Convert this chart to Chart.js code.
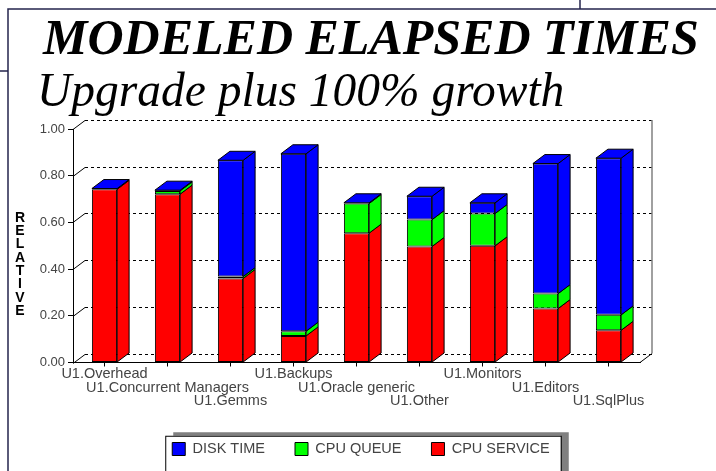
<!DOCTYPE html>
<html>
<head>
<meta charset="utf-8">
<script src="https://cdn.jsdelivr.net/npm/chart.js@4.4.0/dist/chart.umd.min.js"></script>
<style>
html,body{margin:0;padding:0;background:#fff;overflow:hidden}
#wrap{position:relative;width:716px;height:471px}
</style>
</head>
<body>
<div id="wrap"><canvas id="chart" width="716" height="471"></canvas></div>
<script>
const categories = ["U1.Overhead","U1.Concurrent Managers","U1.Gemms","U1.Backups","U1.Oracle generic","U1.Other","U1.Monitors","U1.Editors","U1.SqlPlus"];
const cpuService = [0.742,0.721,0.360,0.114,0.554,0.497,0.500,0.231,0.138];
const cpuQueue   = [0.000,0.014,0.008,0.020,0.127,0.115,0.138,0.064,0.066];
const diskTime   = [0.003,0.003,0.498,0.760,0.003,0.100,0.046,0.557,0.671];
const yTicks = [0, 0.2, 0.4, 0.6, 0.8, 1.0];

const DX = 12, DY = -9;
const SANS = '"Liberation Sans", Arial, sans-serif';
const SERIF = '"Liberation Serif", "Times New Roman", serif';

function poly(ctx, pts, fill){
    ctx.beginPath();
    ctx.moveTo(pts[0][0], pts[0][1]);
    for(let i=1;i<pts.length;i++) ctx.lineTo(pts[i][0], pts[i][1]);
    ctx.closePath();
    ctx.fillStyle = fill;
    ctx.fill();
    ctx.stroke();
}

const decor = {
    id: "decor",
    beforeDraw(chart){
        const ctx = chart.ctx;
        ctx.save();
        // page frame
        ctx.strokeStyle = "#24244e";
        ctx.lineWidth = 1.5;
        ctx.beginPath();
        ctx.moveTo(8, 471); ctx.lineTo(8, 9); ctx.lineTo(716, 9);
        ctx.moveTo(580, 0); ctx.lineTo(580, 9);
        ctx.moveTo(0, 71); ctx.lineTo(8, 71);
        ctx.stroke();

        // titles
        ctx.fillStyle = "#000";
        ctx.textAlign = "left";
        ctx.textBaseline = "alphabetic";
        ctx.font = "italic bold 50px " + SERIF;
        ctx.fillText("MODELED ELAPSED TIMES", 43, 54);
        ctx.font = "italic 47.5px " + SERIF;
        ctx.fillText("Upgrade plus 100% growth", 37, 106);

        // stacked y title
        ctx.font = "bold 14px " + SANS;
        ctx.textAlign = "center";
        ctx.textBaseline = "middle";
        "RELATIVE".split("").forEach((ch,i)=> ctx.fillText(ch, 20, 218 + i*13.3));

        // legend frame with shadow
        const hb = chart.legend.legendHitBoxes;
        if(hb && hb.length){
            const last = hb[hb.length-1];
            const l = hb[0].left - 7, r = last.left + last.width + 11;
            const t = hb[0].top - 6, b = 490;
            ctx.fillStyle = "#808080";
            ctx.fillRect(l+8, t-3.5, r-l, b-t);
            ctx.fillStyle = "#fff";
            ctx.fillRect(l, t, r-l, b-t);
            ctx.strokeStyle = "#000";
            ctx.lineWidth = 1;
            ctx.strokeRect(l+0.5, t+0.5, r-l, b-t);
        }
        ctx.restore();
    },
    beforeDatasetsDraw(chart){
        const ctx = chart.ctx;
        const {left, right, top, bottom} = chart.chartArea;
        const ys = chart.scales.y;
        ctx.save();
        ctx.lineWidth = 1;
        ctx.strokeStyle = "#000";
        ys.ticks.forEach(t=>{
            const py = Math.round(ys.getPixelForValue(t.value)) + 0.5;
            ctx.setLineDash([]);
            ctx.beginPath();
            ctx.moveTo(left, py); ctx.lineTo(left+DX, py+DY);
            ctx.stroke();
            ctx.setLineDash([3,3]);
            ctx.beginPath();
            ctx.moveTo(left+DX, py+DY); ctx.lineTo(right+DX, py+DY);
            ctx.stroke();
        });
        ctx.setLineDash([]);
        ctx.beginPath();
        ctx.moveTo(right, bottom); ctx.lineTo(right+DX, bottom+DY);
        ctx.stroke();
        ctx.strokeStyle = "#808080";
        ctx.lineWidth = 1.5;
        ctx.beginPath();
        ctx.moveTo(right+DX, bottom+DY); ctx.lineTo(right+DX, top+DY);
        ctx.stroke();
        ctx.restore();
    },
    afterDatasetsDraw(chart){
        const ctx = chart.ctx;
        ctx.save();
        ctx.strokeStyle = "#000";
        ctx.lineWidth = 1;
        const n = chart.data.datasets.length;
        chart.data.datasets.forEach((ds, d)=>{
            const meta = chart.getDatasetMeta(d);
            meta.data.forEach(el=>{
                const r = el.x + el.width/2, l = el.x - el.width/2;
                if(Math.abs(el.base - el.y) >= 0.5){
                    poly(ctx, [[r, el.y],[r+DX, el.y+DY],[r+DX, el.base+DY],[r, el.base]], ds.backgroundColor);
                }
                if(d === n-1){
                    poly(ctx, [[l, el.y],[l+DX, el.y+DY],[r+DX, el.y+DY],[r, el.y]], ds.backgroundColor);
                }
            });
        });
        ctx.restore();
    }
};

new Chart(document.getElementById("chart"), {
    type: "bar",
    data: {
        labels: categories,
        datasets: [
            {label:"CPU SERVICE", data:cpuService, backgroundColor:"#ff0000"},
            {label:"CPU QUEUE", data:cpuQueue, backgroundColor:"#00ff00"},
            {label:"DISK TIME", data:diskTime, backgroundColor:"#0000ff"}
        ]
    },
    options: {
        responsive: false,
        animation: false,
        layout: {padding: {left: 8, right: 2, top: 129, bottom: 4.75}},
        datasets: {bar: {borderColor:"#000", borderWidth:1, borderSkipped:false, categoryPercentage:0.8, barPercentage:0.5}},
        plugins: {
            tooltip: {enabled:false},
            title: {display:false},
            legend: {
                position: "bottom",
                reverse: true,
                labels: {
                    boxWidth: 13, boxHeight: 13, padding: 30,
                    color: "#444", font: {family: SANS, size: 14.5},
                    generateLabels(chart){
                        return chart.data.datasets.map((ds,i)=>({
                            text: ds.label, fillStyle: ds.backgroundColor, strokeStyle:"#000",
                            lineWidth: 1, fontColor:"#444", datasetIndex: i, hidden:false
                        }));
                    }
                }
            }
        },
        scales: {
            x: {
                stacked: true,
                grid: {display:true, drawOnChartArea:false, offset:false, tickLength:4, color:"#000"},
                border: {color:"#000", width:1},
                ticks: {
                    autoSkip:false, maxRotation:0, padding:1,
                    color:"#444", font:{family:SANS, size:14.5, lineHeight:0.93},
                    callback:(v,i)=> Array(i%3).fill("").concat([categories[i]])
                },
                afterFit(scale){ scale.height = 49.25; }
            },
            y: {
                stacked: true,
                min: 0, max: 1,
                grid: {drawOnChartArea:false, tickLength:5, color:"#000"},
                border: {color:"#000", width:1},
                ticks: {padding:3, color:"#444", font:{family:SANS, size:13}, callback:v=>v.toFixed(2)},
                afterBuildTicks(scale){ scale.ticks = yTicks.map(v=>({value:v})); },
                afterFit(scale){ scale.width = 65; }
            },
            // empty right gutter so the plot ends at the reference's right edge
            // while the legend stays centred on the page
            gutter: {
                type: "linear",
                position: "right",
                grid: {display:false},
                border: {display:false},
                ticks: {display:false},
                afterFit(scale){ scale.width = 74; }
            }
        }
    },
    plugins: [decor]
});
</script>
</body>
</html>
